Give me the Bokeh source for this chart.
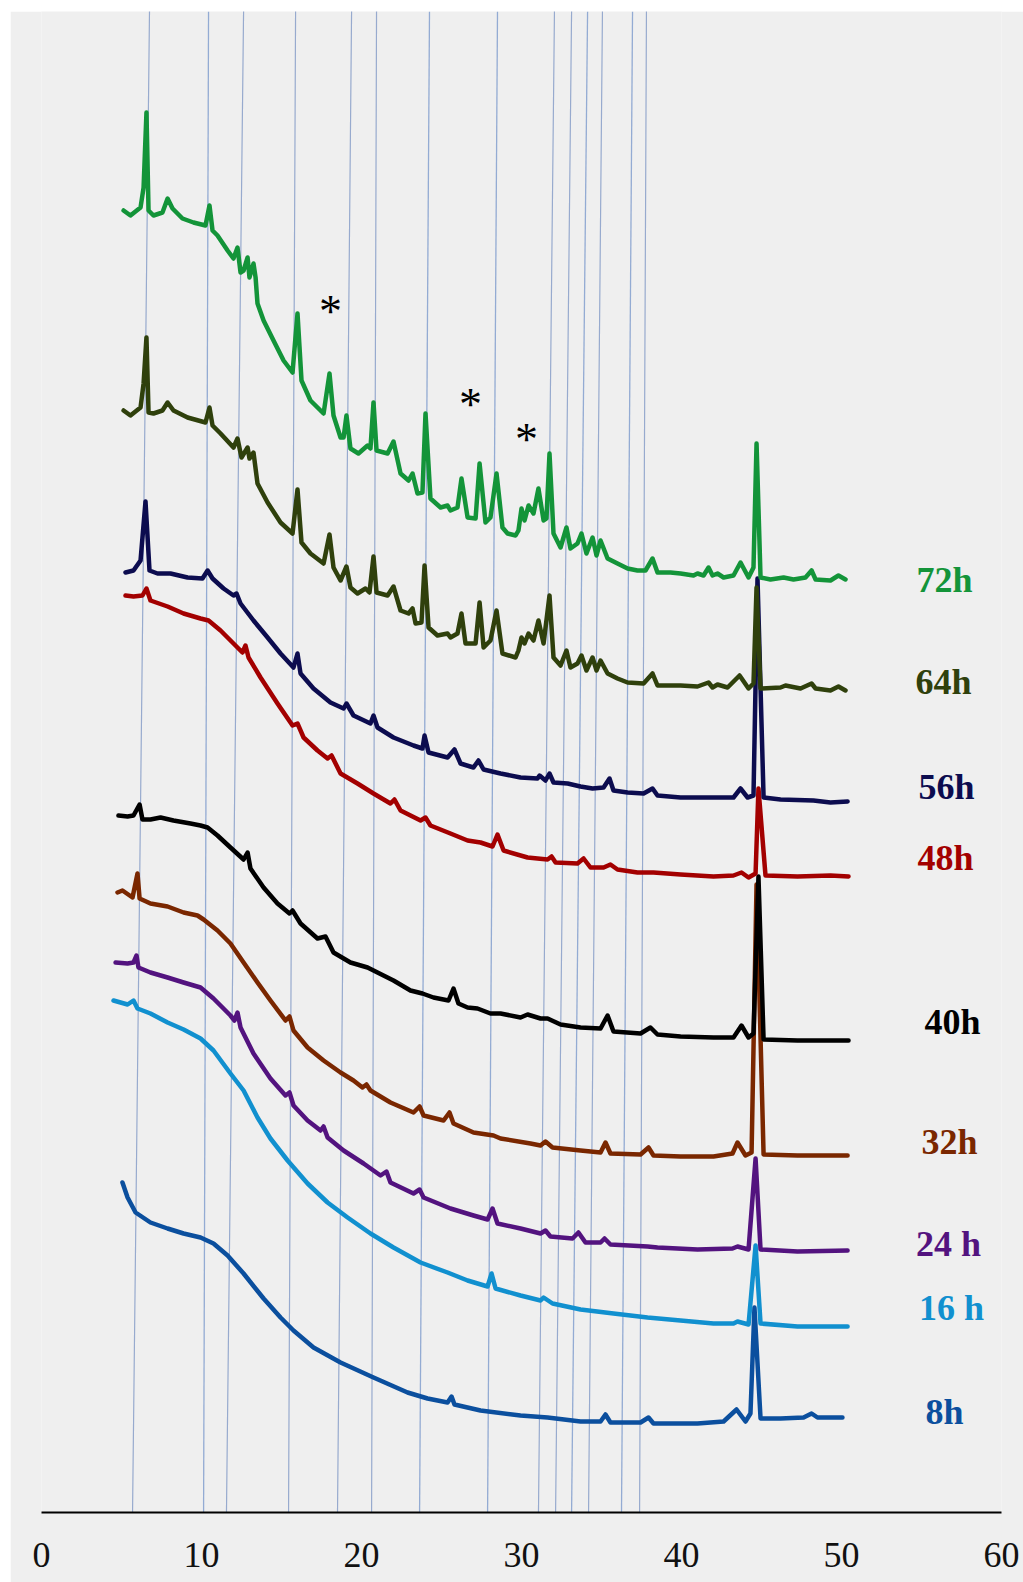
from bokeh.plotting import figure
from bokeh.models import Range1d, FixedTicker
from bokeh.embed import file_html
from bokeh.resources import INLINE
from bokeh.core.properties import value

# ---- XRD patterns: 2-theta (deg) and stacked intensity (a.u.) per reaction time ----
tt_72 = [5.13, 5.56, 6.19, 6.38, 6.56, 6.69, 7.00, 7.56, 7.88, 8.19, 8.81, 9.50, 10.25, 10.50, 10.69,
         11.00, 11.63, 12.00, 12.25, 12.44, 12.63, 12.88, 13.00, 13.25, 13.38, 13.50, 13.88, 14.50,
         15.13, 15.69, 16.00, 16.25, 16.81, 17.63, 18.00, 18.25, 18.69, 18.88, 19.06, 19.31, 19.81,
         20.38, 20.56, 20.75, 20.94, 21.63, 22.00, 22.44, 22.94, 23.19, 23.50, 23.81, 24.00, 24.31,
         24.94, 25.38, 25.56, 26.00, 26.25, 26.63, 27.13, 27.38, 27.75, 28.06, 28.44, 28.81, 29.13,
         29.63, 29.81, 30.00, 30.19, 30.44, 30.75, 31.06, 31.38, 31.56, 31.75, 32.00, 32.44, 32.81,
         33.06, 33.50, 33.75, 34.06, 34.44, 34.69, 34.94, 35.38, 36.00, 36.63, 37.25, 37.75, 38.19,
         38.50, 39.31, 39.94, 40.75, 41.00, 41.38, 41.69, 41.94, 42.25, 42.63, 43.25, 43.69, 44.19,
         44.50, 44.69, 44.94, 45.56, 46.38, 47.00, 47.75, 48.13, 48.38, 49.31, 49.81, 50.25]
I_72 = [1302, 1297, 1305, 1325, 1400, 1302, 1297, 1300, 1314, 1304, 1294, 1290, 1287, 1307, 1282,
        1277, 1262, 1254, 1265, 1240, 1242, 1255, 1235, 1249, 1235, 1209, 1192, 1172,
        1152, 1140, 1199, 1132, 1112, 1099, 1139, 1097, 1075, 1075, 1097, 1064, 1059,
        1067, 1064, 1110, 1062, 1059, 1071, 1039, 1032, 1039, 1019, 1020, 1099, 1014,
        1005, 1007, 1002, 1005, 1034, 995, 994, 1049, 990, 995, 1039, 985, 979,
        977, 982, 1004, 992, 1007, 999, 1024, 992, 994, 1059, 979, 965, 985,
        964, 969, 979, 959, 975, 957, 972, 954, 949, 944, 942, 942, 954,
        940, 940, 939, 937, 939, 937, 945, 937, 939, 935, 937, 950, 935,
        945, 1069, 935, 933, 935, 933, 935, 942, 933, 932, 937, 933]

tt_64 = [5.13, 5.56, 6.19, 6.38, 6.56, 6.69, 7.00, 7.56, 7.88, 8.25, 9.13, 10.25, 10.50, 10.69, 11.19,
         12.00, 12.25, 12.50, 12.88, 13.00, 13.25, 13.50, 14.13, 14.94, 15.69, 16.00, 16.25, 16.81,
         17.63, 18.00, 18.25, 18.69, 19.06, 19.31, 19.75, 20.25, 20.50, 20.75, 20.94, 21.63, 22.00,
         22.44, 22.94, 23.19, 23.38, 23.75, 23.94, 24.19, 24.75, 25.38, 25.56, 26.00, 26.25, 26.50,
         27.13, 27.38, 27.63, 28.06, 28.44, 28.81, 29.63, 29.81, 30.00, 30.19, 30.44, 30.75, 31.06,
         31.38, 31.75, 32.00, 32.44, 32.81, 33.06, 33.50, 33.75, 34.06, 34.44, 34.69, 34.94, 35.38,
         36.00, 36.63, 37.63, 38.19, 38.50, 39.94, 41.00, 41.69, 41.94, 42.25, 42.88, 43.63, 44.19,
         44.50, 44.69, 44.94, 46.19, 46.50, 47.44, 48.13, 48.38, 49.31, 49.81, 50.25]
I_64 = [1102, 1097, 1105, 1129, 1175, 1100, 1099, 1102, 1110, 1102, 1095, 1090, 1105, 1087, 1079,
        1065, 1074, 1055, 1065, 1054, 1060, 1029, 1010, 990, 979, 1023, 970, 959,
        949, 978, 945, 932, 946, 925, 919, 924, 920, 956, 920, 917, 926,
        902, 899, 904, 889, 890, 947, 885, 877, 879, 875, 879, 899, 869,
        869, 910, 865, 872, 902, 859, 855, 862, 875, 869, 879, 872, 892,
        869, 917, 855, 847, 862, 845, 849, 857, 842, 855, 842, 852, 839,
        834, 830, 829, 839, 827, 827, 826, 830, 825, 828, 825, 837, 824,
        829, 925, 824, 825, 827, 824, 829, 824, 822, 826, 822]

tt_56 = [5.25, 5.75, 6.19, 6.50, 6.75, 7.25, 8.06, 9.13, 10.06, 10.38, 10.69, 11.38, 12.00, 12.19,
         12.44, 13.25, 14.13, 14.94, 15.75, 16.00, 16.19, 17.00, 18.06, 18.88, 19.06, 19.50, 20.56,
         20.75, 21.00, 22.00, 23.25, 23.81, 23.94, 24.19, 25.38, 25.81, 26.19, 27.00, 27.31, 27.63,
         28.69, 29.94, 31.00, 31.13, 31.50, 31.75, 32.00, 32.88, 33.69, 34.44, 35.13, 35.50, 35.75,
         36.63, 37.63, 38.19, 38.50, 39.94, 42.00, 43.25, 43.69, 44.13, 44.50, 44.75, 45.13, 46.19,
         48.25, 49.31, 50.38]
I_56 = [940, 942, 952, 1011, 942, 939, 939, 935, 934, 942, 934, 924, 917, 919,
        909, 892, 875, 859, 845, 859, 839, 824, 810, 804, 809, 797, 789,
        797, 785, 775, 767, 764, 777, 760, 755, 763, 749, 745, 752, 743,
        739, 735, 734, 737, 732, 739, 730, 729, 726, 724, 725, 734, 722,
        720, 719, 724, 717, 715, 715, 715, 724, 715, 717, 934, 715, 713,
        712, 710, 711]

tt_48 = [5.25, 5.75, 6.31, 6.56, 6.81, 7.88, 8.88, 9.94, 10.44, 11.19, 12.00, 12.56, 12.75, 12.94,
         13.69, 14.75, 15.69, 16.00, 16.38, 17.25, 17.88, 18.13, 18.69, 19.75, 20.75, 21.81, 22.06,
         22.44, 23.69, 24.00, 24.31, 25.56, 26.63, 27.44, 28.19, 28.50, 28.88, 30.38, 31.63, 31.88,
         32.13, 33.50, 33.88, 34.31, 35.13, 35.56, 36.00, 37.25, 38.25, 39.94, 42.00, 43.25, 43.75,
         44.19, 44.63, 44.81, 45.25, 47.25, 49.31, 50.44]
I_48 = [917, 916, 917, 924, 912, 906, 899, 894, 892, 882, 869, 860, 867, 855,
        835, 809, 787, 789, 775, 762, 754, 757, 739, 729, 719, 709, 713,
        702, 692, 695, 687, 679, 672, 670, 666, 678, 662, 655, 653, 656,
        650, 649, 654, 645, 645, 648, 643, 640, 640, 638, 636, 637, 640,
        635, 639, 724, 637, 636, 637, 636]

tt_40 = [4.81, 5.38, 5.75, 6.13, 6.31, 6.81, 7.44, 8.25, 9.31, 9.94, 10.38, 11.00, 11.81, 12.63,
         12.88, 13.06, 13.88, 14.75, 15.50, 15.69, 16.19, 17.25, 17.75, 18.25, 19.31, 20.38, 21.00,
         22.00, 23.06, 23.81, 24.50, 25.44, 25.75, 26.06, 26.63, 27.25, 28.06, 28.69, 29.94, 30.38,
         31.19, 31.63, 32.44, 33.69, 34.94, 35.38, 35.75, 37.44, 38.06, 38.50, 39.94, 42.00, 43.25,
         43.75, 44.19, 44.50, 44.81, 45.13, 47.25, 49.31, 50.44]
I_40 = [697, 696, 697, 708, 693, 693, 695, 692, 689, 687, 685, 677, 665, 653,
        660, 644, 625, 609, 599, 602, 589, 574, 576, 560, 550, 545, 540,
        532, 522, 519, 515, 512, 524, 509, 505, 504, 499, 499, 495, 498,
        494, 494, 488, 485, 484, 497, 481, 479, 485, 478, 476, 475, 475,
        487, 475, 479, 636, 473, 472, 472, 472]

tt_32 = [4.75, 5.06, 5.69, 6.00, 6.13, 6.81, 7.88, 8.88, 9.75, 10.13, 11.00, 11.81, 12.63, 13.50,
         14.31, 15.25, 15.50, 15.75, 16.63, 17.63, 18.69, 19.50, 20.06, 20.31, 20.56, 21.81, 23.25,
         23.63, 23.88, 25.13, 25.50, 25.75, 27.00, 28.25, 28.69, 30.56, 31.19, 31.50, 31.94, 33.69,
         34.94, 35.25, 35.56, 37.44, 37.94, 38.25, 39.94, 42.00, 43.19, 43.50, 44.00, 44.38, 44.69,
         45.13, 47.25, 50.38]
I_32 = [620, 622, 615, 639, 614, 609, 606, 600, 597, 593, 582, 569, 550, 530,
        512, 492, 496, 482, 465, 452, 440, 432, 425, 428, 422, 410, 400,
        406, 397, 392, 400, 389, 380, 377, 374, 369, 367, 371, 365, 362,
        360, 370, 359, 358, 365, 357, 356, 356, 359, 370, 357, 360, 628,
        358, 357, 357]

tt_24 = [4.63, 5.38, 5.75, 5.94, 6.06, 6.81, 7.88, 8.88, 9.94, 10.75, 11.81, 12.06, 12.25, 12.44,
         13.25, 14.31, 15.25, 15.50, 15.75, 16.63, 17.44, 17.63, 17.88, 18.88, 20.13, 21.19, 21.56,
         21.81, 23.25, 23.63, 23.88, 25.56, 27.00, 27.88, 28.19, 28.50, 29.94, 31.19, 31.50, 31.81,
         33.19, 33.56, 34.00, 34.94, 35.19, 35.56, 37.88, 38.50, 41.00, 43.19, 43.50, 44.19, 44.63,
         44.94, 47.25, 50.38]
I_24 = [550, 549, 550, 557, 545, 540, 535, 530, 525, 514, 497, 492, 500, 485,
        459, 434, 417, 420, 407, 392, 382, 386, 375, 362, 349, 337, 341,
        330, 319, 323, 315, 304, 297, 293, 304, 289, 284, 279, 282, 276,
        274, 280, 270, 270, 274, 268, 266, 265, 263, 264, 266, 263, 354,
        263, 261, 262]

tt_16 = [4.50, 5.38, 5.75, 6.00, 6.81, 7.88, 8.88, 9.94, 10.75, 11.81, 12.63, 13.50, 14.31, 15.38,
         16.63, 17.88, 19.13, 20.56, 22.00, 23.69, 25.38, 26.63, 27.88, 28.13, 28.38, 29.94, 31.19,
         31.38, 31.94, 33.69, 35.75, 37.88, 39.94, 42.00, 43.25, 43.50, 44.19, 44.63, 44.94, 47.25,
         50.38]
I_16 = [512, 508, 512, 504, 499, 490, 483, 474, 462, 439, 422, 395, 374, 352,
        329, 310, 295, 279, 265, 250, 240, 232, 226, 239, 224, 217, 212,
        215, 209, 203, 199, 195, 192, 189, 189, 191, 188, 267, 189, 186,
        186]

tt_8 = [5.06, 5.38, 5.88, 6.81, 7.88, 8.88, 9.94, 10.75, 11.63, 12.63, 13.88, 14.94, 15.75, 17.00,
        18.69, 20.75, 22.88, 24.13, 25.38, 25.63, 25.81, 27.44, 29.94, 31.63, 33.69, 34.94, 35.25,
        35.56, 37.44, 37.94, 38.25, 41.00, 42.63, 43.44, 44.00, 44.31, 44.56, 44.94, 46.19, 47.63,
        48.13, 48.50, 50.06]
I_8 = [330, 315, 300, 290, 284, 279, 275, 269, 257, 239, 214, 195, 182, 165,
       150, 135, 120, 114, 110, 116, 108, 102, 97, 95, 91, 91, 98,
       90, 90, 95, 89, 89, 91, 103, 91, 99, 205, 94, 94, 95,
       99, 95, 95]

# series order: bottom to top
series_names = ["8h", "16 h", "24 h", "32h", "40h", "48h", "56h", "64h", "72h"]
series_tt = [tt_8, tt_16, tt_24, tt_32, tt_40, tt_48, tt_56, tt_64, tt_72]
series_I = [I_8, I_16, I_24, I_32, I_40, I_48, I_56, I_64, I_72]
series_colors = ["#0b4f9e", "#1190cf", "#53137f", "#7a2700", "#000000",
                 "#a30000", "#0c0c4f", "#2f400c", "#139439"]

# label anchors (2-theta, intensity)
label_tt = [56.44, 56.88, 56.69, 56.75, 56.94, 56.50, 56.56, 56.38, 56.44]
label_I = [100, 204, 268, 370, 490, 654, 725, 830, 932]

# reference reflections: 2-theta where each line meets the baseline and the top
ref_tt_bottom = [5.69, 10.13, 11.56, 15.44, 18.50, 20.63, 23.63, 27.88, 31.06, 32.13, 33.13, 34.19, 36.25, 37.38]
ref_tt_top = [6.75, 10.44, 12.63, 15.88, 19.38, 20.94, 24.25, 28.50, 32.06, 33.13, 34.13, 35.06, 36.94, 37.81]
ref_style = ["dot", "solid", "dot", "dot", "dot", "dot", "solid", "solid", "dot", "dot", "solid", "dot", "solid", "dot"]

# impurity markers
star_tt = [18.06, 26.81, 30.31]
star_I = [1207, 1114, 1079]

x_ticks = [0, 10, 20, 30, 40, 50, 60]

BG = "#efefef"
SERIF = "Liberation Serif"

p = figure(width=1013, height=1571, x_range=Range1d(0, 60), y_range=Range1d(0, 1501),
           output_backend="svg", toolbar_location=None, y_axis_location=None,
           min_border_left=31, min_border_right=22, min_border_top=0, min_border_bottom=70)
p.margin = (11, 0, 0, 10)
p.background_fill_color = BG
p.border_fill_color = BG
p.outline_line_color = None
p.grid.visible = False

ax = p.xaxis[0]
ax.ticker = FixedTicker(ticks=x_ticks)
ax.major_tick_in = 0
ax.major_tick_out = 0
ax.minor_tick_in = 0
ax.minor_tick_out = 0
ax.axis_line_color = "#000000"
ax.axis_line_width = 2
ax.major_label_text_font = SERIF
ax.major_label_text_font_size = "36px"
ax.major_label_text_color = "#111111"
ax.major_label_standoff = 30

# reference lines
top_y = 1501
for style, color, dash, lw in [("solid", "#93abd3", "solid", 1.3), ("dot", "#4066ad", "1 1", 1.2)]:
    xb = [b for b, s in zip(ref_tt_bottom, ref_style) if s == style]
    xt = [t for t, s in zip(ref_tt_top, ref_style) if s == style]
    p.segment(x0=xb, y0=[0] * len(xb), x1=xt, y1=[top_y] * len(xt),
              line_color=color, line_width=lw, line_dash=dash)

# patterns
for tt, inten, col in zip(series_tt, series_I, series_colors):
    p.line(tt, inten, line_color=col, line_width=4.5, line_join="round", line_cap="round")

# time labels
p.text(x=label_tt, y=label_I, text=series_names, text_color=series_colors,
       text_font=value(SERIF), text_font_style="bold", text_font_size="36px",
       text_align="center", text_baseline="alphabetic", y_offset=-1)

# asterisks
p.text(x=star_tt, y=star_I, text=["*"] * len(star_tt), text_color="#000000",
       text_font=value(SERIF), text_font_size="46px",
       text_align="center", text_baseline="alphabetic", y_offset=6)

open("out.html", "w").write(file_html(p, INLINE))
